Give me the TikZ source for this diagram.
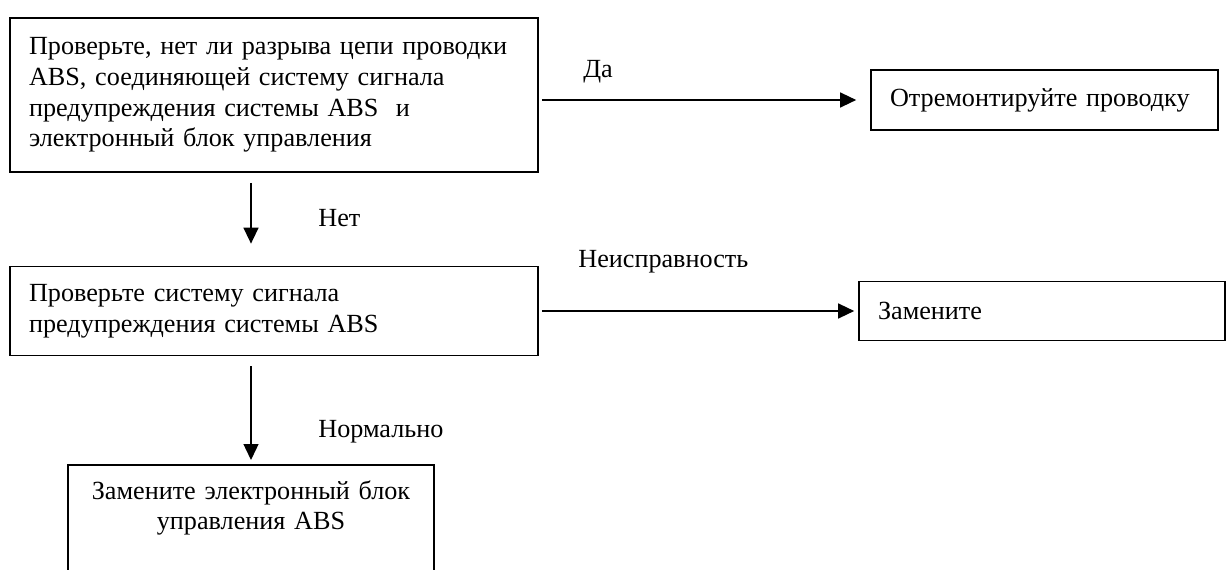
\documentclass[tikz,border=0pt]{standalone}
\usepackage{fontspec}
\setmainfont{Liberation Serif}
\usepackage{tikz}
\usetikzlibrary{arrows.meta, positioning}

\begin{document}
\begin{tikzpicture}[x=0.02cm, y=-0.02cm,
    >={Triangle[length=0.32cm, width=0.3cm]},
    box/.style={
        rectangle, draw=black, line width=1pt, fill=white,
        inner xsep=0.38cm, inner ysep=0pt,
        font=\fontsize{14.9}{17.4}\selectfont, text=black
    },
    lbl/.style={anchor=west, inner sep=0pt, font=\fontsize{14.9}{17.4}\selectfont},
    arr/.style={->, line width=0.8pt, color=black},
]
\useasboundingbox (0,0) rectangle (1229,570);
\clip (0,0) rectangle (1229,570);

% Row 1 – check wiring / repair
\node[box, minimum width=10.56cm, minimum height=3.08cm, text width=9.8cm, align=left]
    (check) at (274,95)
    {Проверьте, нет ли разрыва цепи проводки\\
     ABS, соединяющей систему сигнала\\
     предупреждения системы ABS \ и\\
     электронный блок управления};
\node[box, minimum width=6.94cm, minimum height=1.2cm, text width=6.18cm, align=left]
    (repair) at (1044.5,100) {Отремонтируйте проводку};

% Row 2 – check warning system / replace
\node[box, minimum width=10.56cm, minimum height=1.78cm, text width=9.8cm, align=left]
    (signal) at (274,311)
    {Проверьте систему сигнала\\
     предупреждения системы ABS};
\node[box, minimum width=7.32cm, minimum height=1.18cm, text width=6.56cm, align=left]
    (replace) at (1042,311) {Замените};

% Row 3 – replace ECU
\node[box, minimum width=7.32cm, minimum height=2.84cm, text width=6.56cm, align=center,
      anchor=north] (ecu) at (251,464)
    {Замените электронный блок\\
     управления ABS\\
     \mbox{}\\
     \mbox{}};

% Labels
\node[lbl] (yes)    at (583,72)  {Да};
\node[lbl] (no)     at (318,218) {Нет};
\node[lbl] (fault)  at (578,262) {Неисправность};
\node[lbl] (normal) at (318,432) {Нормально};

% Arrows
\draw[arr, shorten <=0.06cm, shorten >=0.28cm] (check.east |- repair.west) -- (repair.west);
\draw[arr, shorten <=0.2cm, shorten >=0.44cm] (check.south -| ecu.north) -- (signal.north -| ecu.north);
\draw[arr, shorten <=0.06cm, shorten >=0.08cm] (signal.east |- replace.west) -- (replace.west);
\draw[arr, shorten <=0.2cm, shorten >=0.08cm] (signal.south -| ecu.north) -- (ecu.north);

\end{tikzpicture}
\end{document}
